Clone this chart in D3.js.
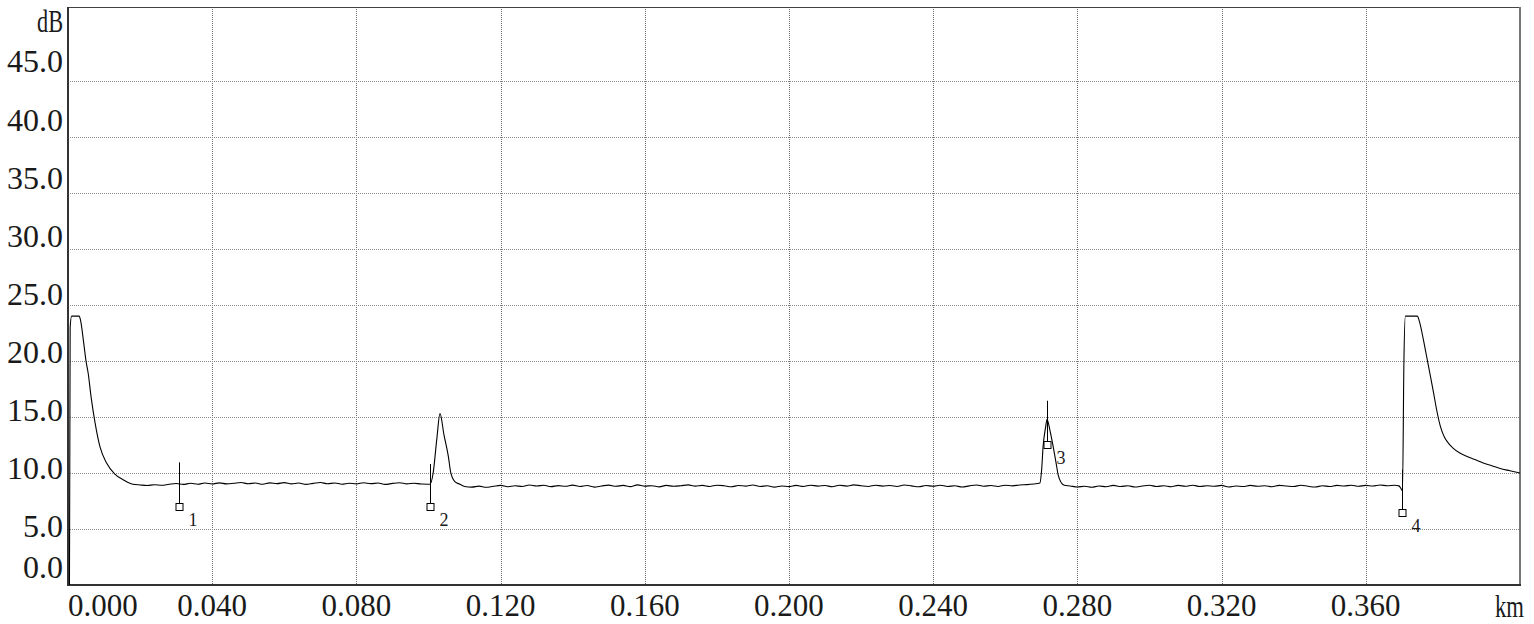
<!DOCTYPE html>
<html>
<head>
<meta charset="utf-8">
<script src="https://cdn.jsdelivr.net/npm/d3@7"></script>
<style>
  html, body { margin: 0; padding: 0; background: #fff; }
  svg { display: block; }
  text { font-family: "Liberation Serif", "DejaVu Serif", serif; fill: #1a1a1a; }
</style>
</head>
<body>
<svg id="chart" width="1534" height="624"></svg>
<script>
// ---------------- DATA ----------------
const xTickValues = [0.000, 0.040, 0.080, 0.120, 0.160, 0.200, 0.240, 0.280, 0.320, 0.360];
const xTickLabels = ["0.000", "0.040", "0.080", "0.120", "0.160", "0.200", "0.240", "0.280", "0.320", "0.360"];
const yTickValues = [45, 40, 35, 30, 25, 20, 15, 10, 5, 0];
const yTickLabels = ["45.0", "40.0", "35.0", "30.0", "25.0", "20.0", "15.0", "10.0", "5.0", "0.0"];
const xUnit = "km";
const yUnit = "dB";
const xMaxKm = 0.4028;
const yMaxDb = 51.6;

// launch pulse [km, dB]
const launchPulse = [
  [0.0004, 0.0], [0.0006, 23.0], [0.0010, 24.0], [0.0031, 24.0], [0.0035, 23.6],
  [0.0044, 21.5], [0.0050, 20.0], [0.0056, 18.9], [0.0064, 16.8], [0.0075, 14.5],
  [0.0089, 12.3], [0.0107, 10.9], [0.0130, 9.9], [0.0153, 9.4], [0.0170, 9.1]
];
// backscatter floor, sampled every 0.002 km
const span1Start = 0.018;
const span1Db = [
  9.00, 8.93, 8.88, 8.95, 8.90, 8.99, 9.06, 8.98, 9.08, 9.00,
  9.10, 9.02, 9.12, 9.03, 9.08, 9.15, 9.04, 9.10, 8.99, 9.12,
  9.05, 9.14, 9.03, 9.10, 8.98, 9.07, 9.15, 9.04, 9.11, 9.00,
  9.09, 9.03, 9.13, 9.05, 9.10, 8.98, 9.07, 9.13, 9.03, 9.09,
  9.01, 9.00
];
const event2 = [
  [0.1004, 9.0], [0.1013, 10.0], [0.1023, 13.0], [0.1032, 15.3], [0.1043, 13.4],
  [0.1055, 11.5], [0.1062, 10.0], [0.1074, 9.2], [0.1087, 9.0]
];
const span2Start = 0.110;
const span2Db = [
  8.80, 8.74, 8.83, 8.72, 8.81, 8.89, 8.77, 8.86, 8.79, 8.93,
  8.84, 8.90, 8.78, 8.87, 8.81, 8.92, 8.79, 8.88, 8.74, 8.84,
  8.92, 8.81, 8.89, 8.78, 8.94, 8.83, 8.86, 8.76, 8.89, 8.81,
  8.86, 8.94, 8.83, 8.89, 8.80, 8.91, 8.86, 8.77, 8.88, 8.83,
  8.93, 8.80, 8.86, 8.74, 8.84, 8.78, 8.89, 8.80, 8.91, 8.83,
  8.88, 8.77, 8.91, 8.83, 8.94, 8.86, 8.80, 8.91, 8.83, 8.88,
  8.80, 8.93, 8.85, 8.77, 8.88, 8.82, 8.91, 8.80, 8.86, 8.75,
  8.85, 8.93, 8.82, 8.88, 8.80, 8.91, 8.85, 8.93, 8.96, 9.02
];
const event3 = [
  [0.2696, 9.1], [0.2701, 10.3], [0.2705, 12.35], [0.2712, 14.1], [0.2716, 14.8],
  [0.2724, 13.8], [0.2733, 12.35], [0.2741, 10.9], [0.2747, 9.8], [0.2756, 9.1],
  [0.2764, 8.9]
];
const span3Start = 0.278;
const span3Db = [
  8.84, 8.75, 8.82, 8.73, 8.84, 8.77, 8.89, 8.79, 8.86, 8.75,
  8.84, 8.91, 8.79, 8.86, 8.77, 8.89, 8.81, 8.91, 8.79, 8.86,
  8.81, 8.89, 8.75, 8.84, 8.79, 8.89, 8.81, 8.86, 8.77, 8.89,
  8.84, 8.79, 8.91, 8.81, 8.75, 8.86, 8.79, 8.89, 8.84, 8.91,
  8.81, 8.89, 8.84, 8.93, 8.86, 8.90
];
const endReflection = [
  [0.3692, 8.85], [0.3698, 8.6], [0.3702, 8.4], [0.3706, 20.0], [0.3710, 24.0],
  [0.3743, 24.0], [0.3750, 23.4], [0.3760, 21.9], [0.3769, 20.4], [0.3778, 18.9],
  [0.3788, 17.2], [0.3797, 15.6], [0.3806, 14.3], [0.3813, 13.6], [0.3820, 13.1],
  [0.3831, 12.6], [0.3843, 12.2], [0.3860, 11.8], [0.3880, 11.5], [0.3903, 11.2],
  [0.3926, 10.9], [0.3950, 10.65], [0.3973, 10.4], [0.4000, 10.2], [0.4028, 10.0]
];
const sampleStepKm = 0.002;

// event markers
const markerIds = ["1", "2", "3", "4"];
const markerKm = [0.0307, 0.1004, 0.2716, 0.3702];
const markerDb = [7.0, 6.95, 12.5, 6.45];
const markerTopDb = [10.95, 10.8, 16.45, 10.3];

// ---------------- LAYOUT ----------------
const W = 1534, H = 624;
const margin = { left: 68, top: 7, right: 14, bottom: 39 };
const iw = W - margin.left - margin.right;
const ih = H - margin.top - margin.bottom;

const x = d3.scaleLinear().domain([0, xMaxKm]).range([margin.left, margin.left + iw]);
const y = d3.scaleLinear().domain([0, yMaxDb]).range([margin.top + ih, margin.top]);

const svg = d3.select("#chart");

const span = (start, vals) => vals.map((v, i) => [start + i * sampleStepKm, v]);
const trace = [].concat(
  launchPulse,
  span(span1Start, span1Db),
  event2,
  span(span2Start, span2Db),
  event3,
  span(span3Start, span3Db),
  endReflection
);

svg.append("defs").append("clipPath").attr("id", "clip")
  .append("rect").attr("x", margin.left).attr("y", margin.top).attr("width", iw).attr("height", ih);

// grid
const grid = svg.append("g");
grid.selectAll("line.v").data(xTickValues.filter(v => v > 0)).join("line")
  .attr("x1", d => Math.round(x(d)) + 0.5).attr("x2", d => Math.round(x(d)) + 0.5)
  .attr("y1", margin.top).attr("y2", margin.top + ih)
  .attr("stroke", "#6a6a6a").attr("stroke-width", 1).attr("stroke-dasharray", "1,1");
grid.selectAll("line.h").data(yTickValues.filter(v => v > 0)).join("line")
  .attr("x1", margin.left).attr("x2", margin.left + iw)
  .attr("y1", d => Math.round(y(d)) + 0.5).attr("y2", d => Math.round(y(d)) + 0.5)
  .attr("stroke", "#8a8a8a").attr("stroke-width", 1).attr("stroke-dasharray", "1,1");

// frame
svg.append("line").attr("x1", margin.left).attr("x2", margin.left + iw)
  .attr("y1", margin.top + 0.5).attr("y2", margin.top + 0.5).attr("stroke", "#444").attr("stroke-width", 1);
svg.append("line").attr("x1", margin.left + iw).attr("x2", margin.left + iw)
  .attr("y1", margin.top).attr("y2", margin.top + ih).attr("stroke", "#777").attr("stroke-width", 2);
svg.append("line").attr("x1", margin.left).attr("x2", margin.left)
  .attr("y1", margin.top).attr("y2", margin.top + ih + 1).attr("stroke", "#333").attr("stroke-width", 2);
svg.append("line").attr("x1", margin.left).attr("x2", margin.left + iw + 1)
  .attr("y1", margin.top + ih).attr("y2", margin.top + ih).attr("stroke", "#333").attr("stroke-width", 2);

// trace
const line = d3.line().x(d => x(d[0])).y(d => y(d[1])).curve(d3.curveMonotoneX);
svg.append("path").datum(trace)
  .attr("clip-path", "url(#clip)")
  .attr("d", line)
  .attr("fill", "none").attr("stroke", "#000").attr("stroke-width", 1.1)
  .attr("stroke-linejoin", "round");

// markers
const mk = svg.append("g");
markerIds.forEach((id, i) => {
  const mx = Math.round(x(markerKm[i])) + 0.5;
  const my = y(markerDb[i]);
  mk.append("line").attr("x1", mx).attr("x2", mx)
    .attr("y1", y(markerTopDb[i])).attr("y2", my - 3.5)
    .attr("stroke", "#000").attr("stroke-width", 1);
  mk.append("rect").attr("x", mx - 3.5).attr("y", Math.round(my) - 3.5)
    .attr("width", 7).attr("height", 7)
    .attr("fill", "#fff").attr("stroke", "#000").attr("stroke-width", 1);
  mk.append("text").attr("x", mx + 9).attr("y", my + 19)
    .attr("font-size", 18).text(id);
});

// y labels (laid out with their own even spacing, as in the instrument display)
const yLabelPos = d3.scaleLinear().domain([5, 45]).range([y(5) + 8.5, y(45) - 8.5]);
svg.append("g").selectAll("text").data(yTickValues).join("text")
  .attr("x", margin.left - 5)
  .attr("y", d => d === 0 ? y(0) - 7 : yLabelPos(d))
  .attr("text-anchor", "end")
  .attr("font-size", 32)
  .text((d, i) => yTickLabels[i]);
svg.append("text").attr("x", margin.left - 5).attr("y", yLabelPos(45) - 40)
  .attr("text-anchor", "end").attr("font-size", 32)
  .attr("textLength", 26).attr("lengthAdjust", "spacingAndGlyphs").text(yUnit);

// x labels
svg.append("g").selectAll("text").data(xTickValues).join("text")
  .attr("x", d => x(d))
  .attr("y", margin.top + ih + 31)
  .attr("text-anchor", d => d === 0 ? "start" : "middle")
  .attr("font-size", 31)
  .text((d, i) => xTickLabels[i]);
svg.append("text").attr("x", W - 10).attr("y", margin.top + ih + 32)
  .attr("text-anchor", "end").attr("font-size", 31)
  .attr("textLength", 29).attr("lengthAdjust", "spacingAndGlyphs").text(xUnit);
</script>
</body>
</html>
